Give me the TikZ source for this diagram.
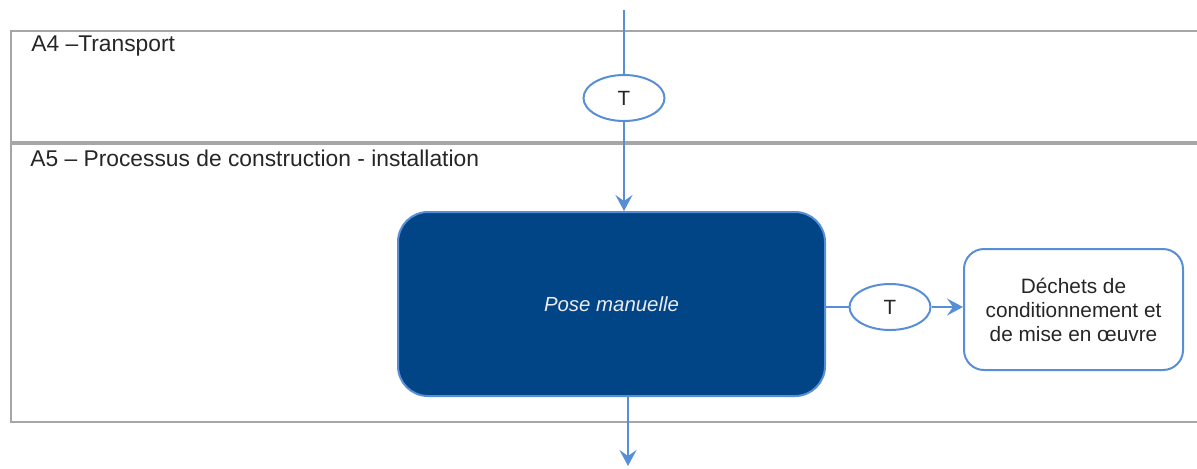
\documentclass[tikz,border=0pt]{standalone}
\usepackage{fontspec}
\setmainfont{Liberation Sans}
\usepackage{xcolor}
\usetikzlibrary{arrows.meta,shapes.geometric}

\definecolor{lanegray}{RGB}{166,166,166}
\definecolor{flowblue}{RGB}{88,142,214}
\definecolor{darkblue}{RGB}{1,69,134}
\definecolor{textgray}{RGB}{38,38,38}

\begin{document}
\begin{tikzpicture}[x=0.5pt,y=-0.5pt,
	lane/.style={draw=lanegray,line width=1.2pt},
	lanetitle/.style={anchor=west,inner sep=0pt,text=textgray,font=\fontsize{11.4}{13}\selectfont},
	flow/.style={draw=flowblue,line width=1pt},
	tip/.style={-{Stealth[length=8pt,width=8.5pt,inset=3pt]}},
	tnode/.style={ellipse,draw=flowblue,line width=1pt,fill=white,minimum width=40.5pt,minimum height=23pt,inner sep=0pt,text=textgray,font=\fontsize{10.3}{12}\selectfont},
	process/.style={rectangle,rounded corners=15pt,draw=flowblue,line width=1pt,fill=darkblue,minimum width=213.5pt,minimum height=92pt,text=white!92!black,font=\fontsize{10.2}{12}\selectfont\itshape},
	output/.style={rectangle,rounded corners=10pt,draw=flowblue,line width=1pt,fill=white,minimum width=109.5pt,minimum height=60.5pt,align=center,text=textgray,font=\fontsize{10.4}{12}\selectfont}]
	\useasboundingbox (0,0) rectangle (1197,468);
	
	% lanes
	\draw[lane] (1197,31) -- (11,31) -- (11,142) -- (1197,142);
	\draw[lane] (1197,144) -- (11,144) -- (11,422) -- (1197,422);
	\node[lanetitle] (a4) at (31,46) {A4 –Transport};
	\node[lanetitle] (a5) at (30,158) {A5 – Processus de construction - installation};
	
	\node[tnode] (t1) at (624,98) {T};
	\node[process] (pose) at (611.5,304) {Pose manuelle};
	\node[tnode] (t2) at (890,307) {T};
	\node[output] (dech) at (1073.5,309.5) {Déchets de\\conditionnement et\\de mise en œuvre};
	\coordinate (top) at (624,10);
	\coordinate (bot) at (628,466);
	
	\draw[flow] (top) -- (t1);
	\draw[flow,tip] (t1) -- (t1 |- pose.north);
	\draw[flow] (pose.east |- t2) -- (t2);
	\draw[flow,tip] (t2.east) -- (t2.east -| dech.west);
	\draw[flow,tip] (bot |- pose.south) -- (bot);
\end{tikzpicture}
\end{document}
